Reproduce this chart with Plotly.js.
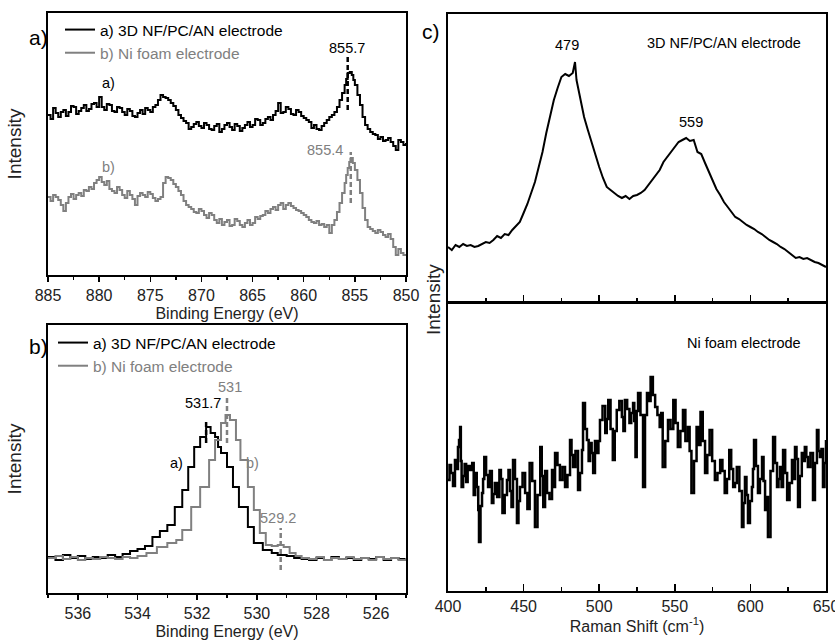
<!DOCTYPE html>
<html><head><meta charset="utf-8">
<script src="https://cdn.plot.ly/plotly-3.0.1.min.js"></script>
<style>html,body{margin:0;padding:0;background:#fff}</style>
</head><body><div id="chart" style="width:835px;height:640px"></div>
<script>
// ---------- Panel a) Ni 2p XPS ----------
const ni2pX_A = [885,884.75,884.5,884.25,884,883.75,883.5,883.25,883,882.75,882.5,882.25,882,881.75,881.5,881.25,881,880.75,880.5,880.25,880,879.75,879.5,879.25,879,878.75,878.5,878.25,878,877.75,877.5,877.25,877,876.75,876.5,876.25,876,875.75,875.5,875.25,875,874.75,874.5,874.25,874,873.75,873.5,873.25,873,872.75,872.5,872.25,872,871.75,871.5,871.25,871,870.75,870.5,870.25,870,869.75,869.5,869.25,869,868.75,868.5,868.25,868,867.75,867.5,867.25,867,866.75,866.5,866.25,866,865.75,865.5,865.25,865,864.75,864.5,864.25,864,863.75,863.5,863.25,863,862.75,862.5,862.25,862,861.75,861.5,861.25,861,860.75,860.5,860.25,860,859.75,859.5,859.25,859,858.75,858.5,858.25,858,857.75,857.5,857.25,857,856.75,856.5,856.25,856,855.85,855.7,855.5,855.3,855.15,855,854.75,854.5,854.25,854,853.75,853.5,853.25,853,852.75,852.5,852.25,852,851.75,851.5,851.25,851,850.75,850.5,850.25,850];
const ni2pY_A = [160,156,167,162,158,163,165,159,163,169,168,161,164,167,170,164,166,171,172,168,178,168,165,171,170,164,163,168,167,163,160,166,164,159,158,162,165,161,167,165,163,168,170,175,180,178,177,175,172,169,165,160,157,154,152,146,148,151,153,149,147,152,150,146,145,149,151,143,146,150,152,148,145,151,149,144,147,150,153,148,150,156,155,150,152,156,158,155,160,164,172,162,163,168,166,161,160,165,163,159,157,155,153,147,150,146,145,149,152,155,158,160,163,168,175,182,190,196,202,203,200,195,190,180,170,158,150,146,143,141,140,136,138,134,135,137,133,129,125,135,133,130,132];
const ni2pX_B = [885,884.75,884.5,884.25,884,883.75,883.5,883.25,883,882.75,882.5,882.25,882,881.75,881.5,881.25,881,880.75,880.5,880.25,880,879.75,879.5,879.25,879,878.75,878.5,878.25,878,877.75,877.5,877.25,877,876.75,876.5,876.25,876,875.75,875.5,875.25,875,874.75,874.5,874.25,874,873.75,873.5,873.25,873,872.75,872.5,872.25,872,871.75,871.5,871.25,871,870.75,870.5,870.25,870,869.75,869.5,869.25,869,868.75,868.5,868.25,868,867.75,867.5,867.25,867,866.75,866.5,866.25,866,865.75,865.5,865.25,865,864.75,864.5,864.25,864,863.75,863.5,863.25,863,862.75,862.5,862.25,862,861.75,861.5,861.25,861,860.75,860.5,860.25,860,859.75,859.5,859.25,859,858.75,858.5,858.25,858,857.75,857.5,857.25,857,856.75,856.5,856.25,856,855.85,855.7,855.55,855.4,855.2,855,854.75,854.5,854.25,854,853.75,853.5,853.25,853,852.75,852.5,852.25,852,851.75,851.5,851.25,851,850.75,850.5,850.25,850];
const ni2pY_B = [78,74,80,78,75,70,64,72,78,81,76,80,82,79,85,84,88,86,92,95,98,93,90,94,86,84,82,88,85,80,77,84,80,76,70,79,82,80,78,83,81,77,74,76,78,92,98,97,95,91,88,84,80,74,70,68,66,63,62,66,64,60,57,62,60,55,52,56,50,53,55,49,50,56,54,50,48,52,55,50,52,58,56,59,60,64,62,66,68,65,70,72,66,70,72,69,67,65,64,62,60,58,55,53,52,54,50,51,48,50,42,50,55,63,72,82,92,100,107,113,117,112,105,95,82,67,55,48,46,44,42,45,43,40,38,41,36,28,20,26,22,20,21];
const ni2pPeakX = [855.7, 855.4];
const ni2pPeakY0 = [165, 72];
const ni2pPeakY1 = [220, 123];

// ---------- Panel b) O 1s XPS ----------
const o1sX_A = [537,536.75,536.5,536.25,536,535.75,535.5,535.25,535,534.75,534.5,534.25,534,533.75,533.5,533.25,533,532.75,532.5,532.3,532.1,531.9,531.7,531.55,531.4,531.3,531.2,531,530.8,530.6,530.3,530.1,529.8,529.5,529.3,529,528.75,528.5,528.25,528,527.75,527.5,527.25,527,526.75,526.5,526.25,526,525.75,525.5,525.25,525];
const o1sY_A = [36,33,38,35,37,34,36,35,38,36,39,42,44,47,56,62,68,86,103,126,146,156,166,160,156,146,140,126,106,86,66,50,43,40,38,37,35,34,33,35,33,36,34,35,33,35,34,36,33,35,34,35];
const o1sX_B = [537,536.75,536.5,536.25,536,535.75,535.5,535.25,535,534.75,534.5,534.25,534,533.7,533.35,533,532.7,532.5,532.2,531.9,531.6,531.4,531.2,531.05,530.9,530.7,530.55,530.3,530.1,529.9,529.7,529.5,529.3,529.1,528.9,528.7,528.5,528.25,528,527.75,527.5,527.25,527,526.75,526.5,526.25,526,525.75,525.5,525.25,525];
const o1sY_B = [35,37,34,36,33,35,34,36,35,34,36,35,37,40,46,50,53,63,86,106,133,153,170,178,173,153,133,106,83,60,48,47,48,46,40,37,35,34,36,33,35,34,36,34,35,33,36,34,35,33,35];
const o1sPeakX = [531.7, 531.0, 529.2];
const o1sPeakY0 = [150, 150, 23];
const o1sPeakY1 = [173, 196, 65];

// ---------- Panel c) Raman ----------
const ramanX_NF = [400,402.5,405,407.5,410,412.5,415,417.5,420,422.5,425,427.5,430,432.5,435,437.5,440,442.5,445,447.5,450,452.5,455,457.5,460,462.5,465,467.5,470,472.5,475,477.5,480,482.5,484,485,487.5,490,492.5,495,497.5,500,502.5,505,507.5,510,512.5,515,517.5,520,522.5,525,527.5,530,532.5,535,537.5,540,542.5,545,547.5,550,552.5,555,557.5,560,562.5,565,567.5,570,572.5,575,577.5,580,582.5,585,587.5,590,592.5,595,597.5,600,602.5,605,607.5,610,612.5,615,617.5,620,622.5,625,627.5,630,632.5,635,637.5,640,642.5,645,647.5,650];
const ramanY_NF = [55,52,57,55,58,56,57,55,56,58,60,59,62,66,64,68,67,72,76,80,89,98,109,120,135,150,169,186,202,214,225,228,226,229,240,222,205,185,172,159,147,135,124,115,112,109,106,104,106,103,106,107,109,112,117,122,127,132,140,145,150,155,160,162,164,161,162,150,148,139,130,122,113,107,100,95,90,85,83,80,77,75,73,70,68,65,62,60,58,55,53,50,47,44,45,43,44,42,40,39,37,35];
const ramanX_Ni = [400,401,402,403.3,404.6,405.6,406.6,407.3,408,408.5,409,410,411,412,413,414.5,416,417,418,419,420,420.5,421.5,422.5,423.2,424,425.2,426.5,427.7,429,430,431,432.5,434,435,436,437.5,439,440,441,442,443,444.3,445.6,446.6,447.6,449.3,451,452.5,454,455.7,457.5,459.2,461,462,463,464.2,465.5,467.1,468.8,469.8,470.8,472.4,474,475.7,477.4,479,480.7,481.7,482.7,484.3,486,487.3,488.6,489.3,490.6,491.9,493,494,495,496,497.2,498.5,499.5,500.5,502.2,504,505,506,507.5,509,510.3,511.6,513.3,515,516,517,518.5,520,521.2,522.4,523.2,524,524.8,525.7,527.3,529,530.3,531.6,532.8,534,535.5,537,538.5,540,541,542,543.7,545.5,547.2,549,550.5,552,553.7,555.4,557,558.7,559.8,561,562.7,564.4,565.7,567,568.5,570,571.5,573,574.7,576.5,578.2,580,581.5,583,584.5,586,587.3,588.6,589.8,591,592.7,594.4,595.4,596.4,597.4,598.4,599.7,601,601.7,602.4,603.7,605,606.3,607.7,608.7,609.7,610.6,611.6,613.3,615,616.3,617.6,618.6,619.6,620.6,621.6,623,624.3,625.9,627.5,628.5,629.5,630.5,631.5,632.7,634,635,636,637,638,639.7,641.4,642.7,644,645,646,647,648,649,650];
const ramanY_Ni = [111,126,118,105,131,122,144,151,164,130,104,115,127,109,125,121,128,96,118,104,81,49,85,98,112,134,116,104,120,88,97,108,94,121,112,78,96,111,121,100,84,131,112,68,90,104,118,98,82,128,110,64,96,144,115,84,120,98,92,121,104,138,126,111,124,104,116,151,136,124,140,101,118,141,188,162,151,130,148,138,118,150,138,150,171,185,158,172,191,162,131,160,181,190,174,160,191,182,168,178,188,170,134,180,198,176,104,176,198,190,214,196,184,176,164,178,124,150,171,162,191,168,144,160,181,150,164,140,98,130,164,146,179,150,118,136,161,130,111,118,131,120,98,112,141,122,104,108,124,100,64,88,114,96,68,90,104,122,151,125,98,112,134,110,81,94,54,120,154,128,104,112,124,104,141,118,91,108,131,112,144,132,84,115,138,130,144,134,124,138,91,128,161,140,134,142,104,128,151];

// ---------- labels ----------
const seriesNames = ['a) 3D NF/PC/AN electrode', 'b) Ni foam electrode'];
const ni2pLabels = ['855.7', '855.4', 'a)', 'b)'];
const o1sLabels = ['531.7', '531', '529.2', 'a)', 'b)'];
const ramanLabels = ['479', '559', '3D NF/PC/AN electrode', 'Ni foam electrode'];
const panelLabels = ['a)', 'b)', 'c)'];

const BLACK = '#000000', GRAY = '#808080';
const FONT = 'Liberation Sans, Arial, sans-serif';
const W = 835, H = 640;
const px = v => v / W, py = v => 1 - v / H;

function peakTraces(xs, y0, y1, colors, xa, ya) {
  return xs.map((x, i) => ({
    x: [x, x], y: [y0[i], y1[i]], xaxis: xa, yaxis: ya, mode: 'lines',
    line: {color: colors[i], width: 2.5, dash: '5px,3px'}, showlegend: false, hoverinfo: 'skip'
  }));
}

const traces = [
  {x: ni2pX_A, y: ni2pY_A, name: seriesNames[0], xaxis: 'x', yaxis: 'y', mode: 'lines', line: {color: BLACK, width: 2, shape: 'hv'}, legend: 'legend'},
  {x: ni2pX_B, y: ni2pY_B, name: '<span style="color:#808080">' + seriesNames[1] + '</span>', xaxis: 'x', yaxis: 'y', mode: 'lines', line: {color: GRAY, width: 2, shape: 'hv'}, legend: 'legend'},
  {x: o1sX_A, y: o1sY_A, name: seriesNames[0], xaxis: 'x2', yaxis: 'y2', mode: 'lines', line: {color: BLACK, width: 2, shape: 'hv'}, legend: 'legend2'},
  {x: o1sX_B, y: o1sY_B, name: '<span style="color:#808080">' + seriesNames[1] + '</span>', xaxis: 'x2', yaxis: 'y2', mode: 'lines', line: {color: GRAY, width: 2, shape: 'hv'}, legend: 'legend2'},
  {x: ramanX_NF, y: ramanY_NF, xaxis: 'x3', yaxis: 'y3', mode: 'lines', line: {color: BLACK, width: 2}, showlegend: false},
  {x: ramanX_Ni, y: ramanY_Ni, xaxis: 'x4', yaxis: 'y4', mode: 'lines', line: {color: BLACK, width: 2.5, shape: 'hv'}, showlegend: false},
  ...peakTraces(ni2pPeakX, ni2pPeakY0, ni2pPeakY1, [BLACK, GRAY], 'x', 'y'),
  ...peakTraces(o1sPeakX, o1sPeakY0, o1sPeakY1, [BLACK, GRAY, GRAY], 'x2', 'y2')
];

const boxY = {showticklabels: false, ticks: '', showline: true, mirror: true, linecolor: BLACK, linewidth: 2, showgrid: false, zeroline: false, fixedrange: true};
const xpsX = (range, dtick, mdtick) => ({
  range: range, dtick: dtick, tick0: 0, ticks: 'outside', ticklen: 5, tickwidth: 1.5, tickcolor: BLACK,
  minor: {dtick: mdtick, tick0: 0, ticks: 'outside', ticklen: 3, tickwidth: 1.5, tickcolor: BLACK},
  showline: true, mirror: true, linecolor: BLACK, linewidth: 2, showgrid: false, zeroline: false,
  ticklabeloverflow: 'allow',
  tickfont: {family: FONT, size: 16, color: '#222'},
  title: {text: 'Binding Energy (eV)', font: {family: FONT, size: 16, color: '#222'}, standoff: 5}
});
const ramanXAx = (labels) => ({
  range: [400, 650], dtick: 50, tick0: 0, ticks: 'inside', ticklen: 7, tickwidth: 1.5, tickcolor: BLACK,
  minor: {dtick: 25, tick0: 0, ticks: 'inside', ticklen: 4, tickwidth: 1.5, tickcolor: BLACK},
  showline: true, mirror: true, linecolor: BLACK, linewidth: 2, showgrid: false, zeroline: false,
  ticklabeloverflow: 'allow',
  showticklabels: labels, tickfont: {family: FONT, size: 16, color: '#222'}
});

const ann = (text, x, y, xref, yref, color, extra) => Object.assign({text: text, x: x, y: y, xref: xref, yref: yref, showarrow: false, font: {family: FONT, size: 14.5, color: color}}, extra || {});

const layout = {
  width: W, height: H, margin: {l: 0, r: 0, t: 0, b: 0},
  paper_bgcolor: '#fff', plot_bgcolor: '#fff',
  font: {family: FONT, color: '#222'},
  xaxis: Object.assign(xpsX([885, 850], 5, 2.5), {domain: [px(48), px(406)], anchor: 'y'}),
  yaxis: Object.assign({}, boxY, {domain: [py(275), py(13)], range: [0, 262], anchor: 'x',
    title: {text: 'Intensity', font: {family: FONT, size: 19, color: '#222'}, standoff: 19}}),
  xaxis2: Object.assign(xpsX([537, 525], 2, 1), {domain: [px(48), px(406)], anchor: 'y2'}),
  yaxis2: Object.assign({}, boxY, {domain: [py(593), py(325)], range: [0, 268], anchor: 'x2',
    title: {text: 'Intensity', font: {family: FONT, size: 19, color: '#222'}, standoff: 19}}),
  xaxis3: Object.assign(ramanXAx(false), {domain: [px(448), px(826)], anchor: 'y3'}),
  yaxis3: Object.assign({}, boxY, {domain: [py(302), py(14)], range: [0, 288], anchor: 'x3'}),
  xaxis4: Object.assign(ramanXAx(true), {domain: [px(448), px(826)], anchor: 'y4',
    title: {text: 'Raman Shift (cm<sup>-1</sup>)', font: {family: FONT, size: 16, color: '#222'}, standoff: 3}}),
  yaxis4: Object.assign({}, boxY, {domain: [py(591), py(303)], range: [0, 288], anchor: 'x4'}),
  legend: {x: px(60), y: py(13), xanchor: 'left', yanchor: 'top', bgcolor: 'rgba(0,0,0,0)', borderwidth: 0,
    font: {family: FONT, size: 15.5, color: BLACK}, itemwidth: 30, tracegroupgap: 0},
  legend2: {x: px(53), y: py(326), xanchor: 'left', yanchor: 'top', bgcolor: 'rgba(0,0,0,0)', borderwidth: 0,
    font: {family: FONT, size: 15.5, color: BLACK}, itemwidth: 30, tracegroupgap: 0},
  annotations: [
    ann(ni2pLabels[0], 855.77, 227, 'x', 'y', BLACK),
    ann(ni2pLabels[1], 855.97, 125, 'x', 'y', GRAY, {xanchor: 'right'}),
    ann(ni2pLabels[2], 879.1, 192, 'x', 'y', BLACK),
    ann(ni2pLabels[3], 879.1, 108, 'x', 'y', GRAY),
    ann(o1sLabels[0], 531.8, 190, 'x2', 'y2', BLACK),
    ann(o1sLabels[1], 530.9, 206, 'x2', 'y2', GRAY),
    ann(o1sLabels[2], 529.3, 75, 'x2', 'y2', GRAY),
    ann(o1sLabels[3], 532.7, 130, 'x2', 'y2', BLACK),
    ann(o1sLabels[4], 530.15, 130, 'x2', 'y2', GRAY),
    ann(ramanLabels[0], 479, 257, 'x3', 'y3', BLACK),
    ann(ramanLabels[1], 561, 180, 'x3', 'y3', BLACK),
    ann(ramanLabels[2], 634.8, 259, 'x3', 'y3', BLACK, {xanchor: 'right'}),
    ann(ramanLabels[3], 634.8, 248, 'x4', 'y4', BLACK, {xanchor: 'right'}),
    ann('Intensity', px(433), py(300), 'paper', 'paper', '#222', {textangle: -90, font: {family: FONT, size: 19, color: '#222'}}),
    ann(panelLabels[0], px(27), py(24), 'paper', 'paper', BLACK, {font: {family: FONT, size: 21, color: BLACK}}),
    ann(panelLabels[1], px(27), py(346), 'paper', 'paper', BLACK, {font: {family: FONT, size: 21, color: BLACK}}),
    ann(panelLabels[2], px(431), py(18), 'paper', 'paper', BLACK, {font: {family: FONT, size: 21, color: BLACK}})
  ]
};

Plotly.newPlot('chart', traces, layout, {displayModeBar: false, staticPlot: true});
</script></body></html>
